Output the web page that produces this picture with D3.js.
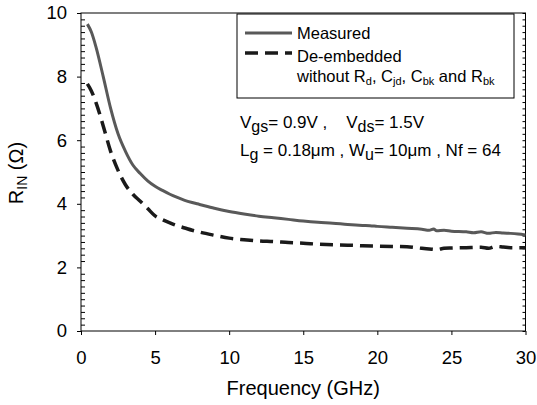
<!DOCTYPE html>
<html lang="en">
  <head>
    <title>R_IN vs Frequency</title>
    <script src="https://d3js.org/d3.v7.min.js"></script>
    <style>
      body {
        margin: 0;
        background: #fff;
      }

      svg text {
        font-family: Arial, "Liberation Sans", sans-serif;
        fill: #000;
      }

      .axis path {
        display: none;
      }

      .axis line {
        stroke: #000;
        stroke-width: 1;
      }

      .measured {
        fill: none;
        stroke: #595959;
        stroke-width: 3;
      }

      .deembedded {
        fill: none;
        stroke: #1a1a1a;
        stroke-width: 3.5;
        stroke-dasharray: 13, 7;
      }
    </style>
  </head>
  <body>
    <script>
      // values
      const freqMeasured = [0.43, 0.7, 1.0, 1.5, 2.0, 2.5, 3.0, 3.5, 4.0, 4.5, 5.0, 5.5, 6.0, 6.5, 7.0, 7.5, 8.0, 9.0, 10, 11, 12, 13, 14, 15, 16, 17, 18, 19, 19.5, 20, 21, 22, 23, 23.5, 23.8, 24, 24.5, 25, 26, 26.5, 27, 27.5, 28, 28.5, 29, 29.5, 30];
      const rinMeasured = [9.65, 9.4, 8.95, 8.0, 7.0, 6.2, 5.65, 5.22, 4.95, 4.72, 4.55, 4.42, 4.30, 4.20, 4.11, 4.04, 3.98, 3.86, 3.76, 3.68, 3.61, 3.56, 3.51, 3.46, 3.42, 3.39, 3.35, 3.32, 3.31, 3.29, 3.26, 3.23, 3.20, 3.17, 3.21, 3.15, 3.17, 3.14, 3.12, 3.09, 3.12, 3.07, 3.10, 3.08, 3.07, 3.05, 3.02];

      const freqDeembedded = [0.43, 0.7, 1.0, 1.5, 2.0, 2.5, 3.0, 3.5, 4.0, 4.5, 5.0, 5.5, 6.0, 6.5, 7.0, 7.5, 8.0, 9.0, 10, 11, 12, 13, 14, 15, 16, 17, 18, 19, 20, 21, 22, 23, 23.5, 24, 24.5, 25, 26, 27, 27.5, 28, 28.5, 29, 30];
      const rinDeembedded = [7.77, 7.55, 7.2, 6.45, 5.65, 5.05, 4.6, 4.3, 4.08, 3.85, 3.62, 3.50, 3.40, 3.31, 3.24, 3.17, 3.11, 3.01, 2.92, 2.87, 2.83, 2.81, 2.78, 2.76, 2.73, 2.71, 2.70, 2.68, 2.67, 2.66, 2.65, 2.60, 2.58, 2.56, 2.60, 2.61, 2.62, 2.63, 2.60, 2.66, 2.64, 2.62, 2.62];

      const xTicks = [0, 5, 10, 15, 20, 25, 30];
      const yTicks = [0, 2, 4, 6, 8, 10];
      const yMinorTicks = d3.range(0, 10.01, 0.2).filter(v => Math.abs(v / 2 - Math.round(v / 2)) > 0.01);

      const w = 537;
      const h = 405;
      const margin = {top: 13, right: 11.5, bottom: 74, left: 81};

      const xScale = d3.scaleLinear()
                       .domain([0, 30])
                       .range([margin.left, w - margin.right]);

      const yScale = d3.scaleLinear()
                       .domain([0, 10])
                       .range([h - margin.bottom, margin.top]);

      const svg = d3.select('body')
                    .append('svg')
                    .attr('width', w)
                    .attr('height', h);

      // frame
      svg.append('rect')
         .attr('x', xScale(0))
         .attr('y', yScale(10))
         .attr('width', xScale(30) - xScale(0))
         .attr('height', yScale(0) - yScale(10))
         .attr('fill', 'none')
         .attr('stroke', '#000')
         .attr('stroke-width', 1);

      // axes
      svg.append('g')
         .attr('class', 'axis')
         .attr('transform', `translate(0, ${yScale(0)})`)
         .call(d3.axisBottom(xScale).tickValues(xTicks).tickSize(4).tickPadding(16).tickSizeOuter(0))
         .selectAll('text')
         .style('font-size', '18.5px');

      svg.append('g')
         .attr('class', 'axis')
         .attr('transform', `translate(${xScale(0)}, 0)`)
         .call(d3.axisLeft(yScale).tickValues(yTicks).tickSize(4).tickPadding(10).tickSizeOuter(0))
         .selectAll('text')
         .style('font-size', '18.5px');

      svg.append('g')
         .attr('class', 'axis')
         .attr('transform', `translate(${xScale(0)}, 0)`)
         .call(d3.axisLeft(yScale).tickValues(yMinorTicks).tickSize(-4).tickFormat('').tickSizeOuter(0));

      svg.append('g')
         .attr('class', 'axis')
         .attr('transform', `translate(${xScale(30)}, 0)`)
         .call(d3.axisRight(yScale).tickValues(yMinorTicks.concat(yTicks)).tickSize(-3).tickFormat('').tickSizeOuter(0));

      // curves
      const line = d3.line()
                     .x(d => xScale(d[0]))
                     .y(d => yScale(d[1]))
                     .curve(d3.curveMonotoneX);

      svg.append('path')
         .datum(freqMeasured.map((f, i) => [f, rinMeasured[i]]))
         .attr('class', 'measured')
         .attr('d', line);

      svg.append('path')
         .datum(freqDeembedded.map((f, i) => [f, rinDeembedded[i]]))
         .attr('class', 'deembedded')
         .attr('d', line);

      // axis titles
      svg.append('text')
         .attr('x', (xScale(0) + xScale(30)) / 2)
         .attr('y', 395)
         .attr('text-anchor', 'middle')
         .style('font-size', '20px')
         .text('Frequency (GHz)');

      const yTitle = svg.append('text')
         .attr('transform', `translate(23, ${(yScale(0) + yScale(10)) / 2 + 1}) rotate(-90)`)
         .attr('text-anchor', 'middle')
         .style('font-size', '20px');
      yTitle.append('tspan').text('R');
      yTitle.append('tspan').attr('dy', 4).style('font-size', '14px').text('IN');
      yTitle.append('tspan').attr('dy', -4).text(' (Ω)');

      // text with subscripts
      function richText(x, y, size, subSize, shift, parts) {
        const t = svg.append('text')
                     .attr('x', x)
                     .attr('y', y)
                     .style('font-size', size + 'px')
                     .attr('xml:space', 'preserve');
        let down = false;
        parts.forEach(p => {
          const sub = Array.isArray(p);
          const s = t.append('tspan').text(sub ? p[0] : p);
          if (sub) {
            s.style('font-size', subSize + 'px');
            if (!down) s.attr('dy', shift);
            down = true;
          } else if (down) {
            s.attr('dy', -shift);
            down = false;
          }
        });
        return t;
      }

      // legend
      svg.append('rect')
         .attr('x', 237)
         .attr('y', 14)
         .attr('width', 277)
         .attr('height', 84)
         .attr('fill', '#fff')
         .attr('stroke', '#000')
         .attr('stroke-width', 1);

      svg.append('line')
         .attr('class', 'measured')
         .attr('x1', 245).attr('x2', 292)
         .attr('y1', 33).attr('y2', 33);

      svg.append('line')
         .attr('class', 'deembedded')
         .attr('x1', 245).attr('x2', 292)
         .attr('y1', 53).attr('y2', 53);

      richText(297, 38.5, 16.5, 11, 3, ['Measured']);
      richText(297, 62, 16.5, 11, 3, ['De-embedded']);
      richText(297, 82, 16.5, 11, 3, ['without R', ['d'], ', C', ['jd'], ', C', ['bk'], ' and R', ['bk']]);

      // bias and geometry notes
      richText(240, 128, 17, 16, 4, ['V', ['gs'], '= 0.9V ,    V', ['ds'], '= 1.5V']);
      richText(240, 156, 17, 16, 4, ['L', ['g'], ' = 0.18μm , W', ['u'], '= 10μm , Nf = 64']);
    </script>
  </body>
</html>
